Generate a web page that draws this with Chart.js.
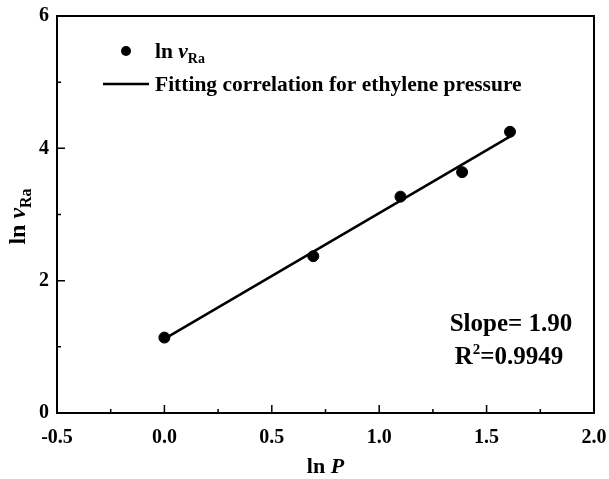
<!DOCTYPE html>
<html>
<head>
<meta charset="utf-8">
<script src="https://cdn.jsdelivr.net/npm/chart.js@4/dist/chart.umd.min.js"></script>
<style>
  html, body { margin: 0; padding: 0; background: #fff; }
  #wrap { width: 609px; height: 479px; }
</style>
</head>
<body>
<div id="wrap"><canvas id="lnChart" width="609" height="479"></canvas></div>
<script>
// data
var lnP = [0, 0.693, 1.099, 1.386, 1.609];
var lnV = [1.14, 2.37, 3.27, 3.64, 4.25];
// fitted line end points (as drawn)
var fitX = [0, 1.61];
var fitY = [1.12, 4.18];
var xTicks = [-0.5, 0, 0.5, 1.0, 1.5, 2.0];
var yTicks = [0, 2, 4, 6];
var slopeText = 'Slope= 1.90';
var r2Value = '=0.9949';

var FONT = '"Liberation Serif", "Times New Roman", serif';

function pts(xs, ys) {
  return xs.map(function (x, i) { return { x: x, y: ys[i] } });
}

// draw a run of text pieces with mixed style
function richWidth(ctx, parts) {
  var w = 0;
  parts.forEach(function (p) {
    ctx.font = (p.style || 'bold') + ' ' + p.size + 'px ' + FONT;
    w += ctx.measureText(p.t).width;
  });
  return w;
}
function drawRich(ctx, parts, x, y, align) {
  var w = richWidth(ctx, parts);
  var cx = align === 'center' ? x - w / 2 : x;
  ctx.textBaseline = 'alphabetic';
  ctx.textAlign = 'left';
  parts.forEach(function (p) {
    ctx.font = (p.style || 'bold') + ' ' + p.size + 'px ' + FONT;
    ctx.fillText(p.t, cx, y + (p.dy || 0));
    cx += ctx.measureText(p.t).width;
  });
}

var decor = {
  id: 'decor',
  afterDraw: function (chart) {
    var ctx = chart.ctx, a = chart.chartArea;
    var xs = chart.scales.x, ys = chart.scales.y;
    ctx.save();
    ctx.strokeStyle = '#000';
    ctx.fillStyle = '#000';
    ctx.lineWidth = 2;
    ctx.strokeRect(a.left, a.top, a.right - a.left, a.bottom - a.top);

    // inward ticks, major + minor
    ctx.lineWidth = 1.5;
    ctx.beginPath();
    for (var i = 0; i < xTicks.length; i++) {
      var px = xs.getPixelForValue(xTicks[i]);
      ctx.moveTo(px, a.bottom); ctx.lineTo(px, a.bottom - 8);
      if (i < xTicks.length - 1) {
        var mx = xs.getPixelForValue((xTicks[i] + xTicks[i + 1]) / 2);
        ctx.moveTo(mx, a.bottom); ctx.lineTo(mx, a.bottom - 4);
      }
    }
    for (var j = 0; j < yTicks.length; j++) {
      var py = ys.getPixelForValue(yTicks[j]);
      ctx.moveTo(a.left, py); ctx.lineTo(a.left + 8, py);
      if (j < yTicks.length - 1) {
        var my = ys.getPixelForValue((yTicks[j] + yTicks[j + 1]) / 2);
        ctx.moveTo(a.left, my); ctx.lineTo(a.left + 4, my);
      }
    }
    ctx.stroke();

    // legend
    ctx.beginPath();
    ctx.arc(126, 51, 5, 0, Math.PI * 2);
    ctx.fill();
    drawRich(ctx, [
      { t: 'ln ', size: 21.5 },
      { t: 'v', size: 21.5, style: 'bold italic' },
      { t: 'Ra', size: 14, dy: 5 }
    ], 155, 58, 'left');
    ctx.lineWidth = 2.5;
    ctx.beginPath();
    ctx.moveTo(103, 84); ctx.lineTo(149, 84);
    ctx.stroke();
    drawRich(ctx, [{ t: 'Fitting correlation for ethylene pressure', size: 21.5 }],
      155, 91, 'left');

    // fit annotation
    drawRich(ctx, [{ t: slopeText, size: 25 }], 511, 331, 'center');
    drawRich(ctx, [
      { t: 'R', size: 25 },
      { t: '2', size: 15, dy: -10 },
      { t: r2Value, size: 25 }
    ], 509, 364, 'center');

    // axis titles
    drawRich(ctx, [
      { t: 'ln ', size: 22 },
      { t: 'P', size: 22, style: 'bold italic' }
    ], (a.left + a.right) / 2, 473, 'center');
    ctx.translate(25, (a.top + a.bottom) / 2 + 2);
    ctx.rotate(-Math.PI / 2);
    drawRich(ctx, [
      { t: 'ln ', size: 24 },
      { t: 'v', size: 24, style: 'bold italic' },
      { t: 'Ra', size: 16, dy: 6 }
    ], 0, 0, 'center');
    ctx.restore();
  }
};

var tickFont = { family: FONT, size: 20, weight: 'bold' };

new Chart(document.getElementById('lnChart').getContext('2d'), {
  type: 'scatter',
  data: {
    datasets: [{
      label: 'ln vRa',
      data: pts(lnP, lnV),
      backgroundColor: '#000',
      borderColor: '#000',
      pointRadius: 5.5,
      pointHoverRadius: 5.5,
      order: 1
    }, {
      label: 'Fitting correlation for ethylene pressure',
      type: 'line',
      data: pts(fitX, fitY),
      borderColor: '#000',
      borderWidth: 2.5,
      pointRadius: 0,
      fill: false,
      order: 2
    }]
  },
  options: {
    responsive: false,
    animation: false,
    layout: { padding: { left: 0, right: 15, top: 16, bottom: 0 } },
    plugins: { legend: { display: false }, tooltip: { enabled: false } },
    scales: {
      x: {
        type: 'linear', min: -0.5, max: 2.0,
        afterBuildTicks: function (s) { s.ticks = xTicks.map(function (v) { return { value: v } }) },
        afterFit: function (s) { s.height = 66; s.paddingLeft = 0; s.paddingRight = 0 },
        grid: { display: false, drawTicks: false },
        border: { display: false },
        ticks: {
          color: '#000', font: tickFont, padding: 13, maxRotation: 0,
          callback: function (v) { return v.toFixed(1) }
        }
      },
      y: {
        type: 'linear', min: 0, max: 6,
        afterBuildTicks: function (s) { s.ticks = yTicks.map(function (v) { return { value: v } }) },
        afterFit: function (s) { s.width = 57; s.paddingTop = 0; s.paddingBottom = 0 },
        grid: { display: false, drawTicks: false },
        border: { display: false },
        ticks: { color: '#000', font: tickFont, padding: 8 }
      }
    }
  },
  plugins: [decor]
});
</script>
</body>
</html>
